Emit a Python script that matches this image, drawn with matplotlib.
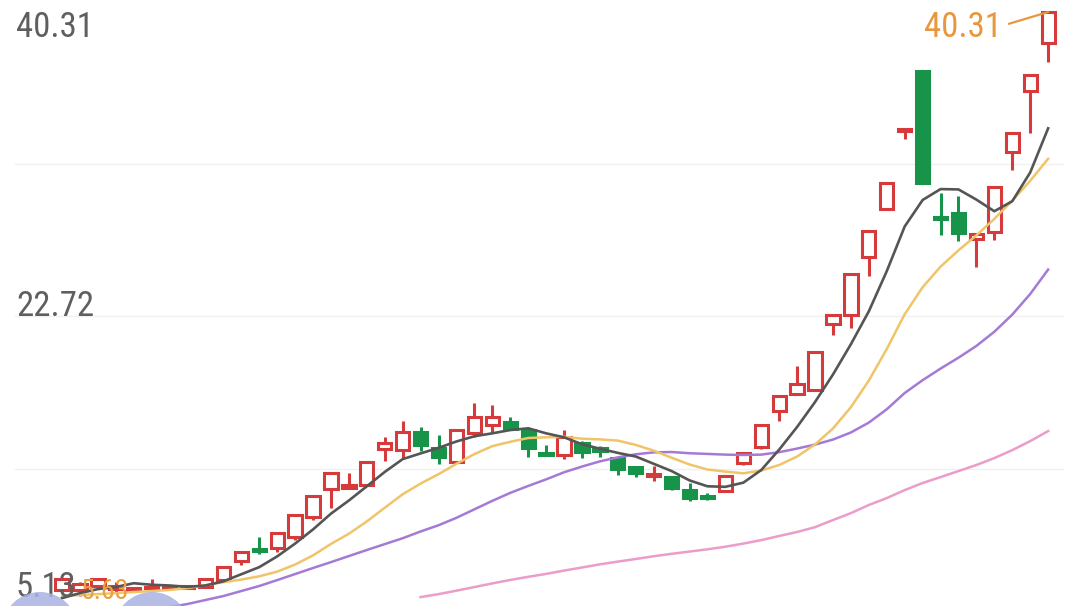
import numpy as np
import matplotlib.pyplot as plt
from matplotlib import font_manager
from matplotlib.patches import Rectangle, Ellipse

# daily candles, oldest first (prices)
opens = [6.92, 6.92, 7.15, 6.97, 6.92, 7.03, 7.03, 7.03, 7.09, 7.49,
         8.59, 9.28, 9.34, 9.98, 11.13, 12.75, 12.81, 12.98, 15.06, 15.00,
         16.04, 15.12, 14.31, 15.99, 16.45, 16.62, 16.16, 14.83, 14.72, 15.41,
         15.12, 14.54, 14.02, 13.50, 13.44, 12.69, 12.35, 12.63, 14.25, 15.18,
         17.26, 18.24, 18.47, 22.28, 22.80, 26.15, 28.93, 33.43, 36.90, 28.46,
         28.69, 27.19, 27.60, 32.22, 35.74, 38.52]
closes = [7.55, 7.26, 7.55, 7.15, 7.03, 7.09, 7.09, 7.15, 7.55, 8.24,
          9.11, 9.17, 10.21, 11.25, 12.35, 13.68, 12.98, 14.31, 15.41, 16.04,
          15.29, 14.60, 16.16, 16.91, 16.91, 16.22, 15.12, 14.72, 15.75, 14.89,
          14.95, 13.91, 13.68, 13.62, 12.81, 12.23, 12.23, 13.50, 14.83, 16.45,
          18.12, 18.82, 20.66, 22.80, 25.17, 27.65, 30.43, 33.55, 30.43, 28.35,
          27.54, 27.48, 30.20, 33.32, 36.67, 40.31]
highs = [7.55, 7.38, 7.55, 7.38, 7.03, 7.55, 7.20, 7.15, 7.55, 8.24,
         9.11, 9.98, 10.21, 11.25, 12.35, 13.68, 13.68, 14.31, 15.75, 16.68,
         16.33, 15.87, 16.16, 17.72, 17.60, 16.91, 16.33, 15.29, 16.16, 15.52,
         15.24, 14.60, 14.08, 14.08, 13.50, 13.10, 12.52, 13.50, 14.83, 16.45,
         18.12, 19.86, 20.66, 22.80, 25.17, 27.65, 30.43, 33.55, 36.90, 29.85,
         29.68, 27.48, 30.20, 33.32, 36.67, 40.31]
lows = [6.80, 6.57, 7.03, 6.80, 6.86, 6.92, 6.97, 6.97, 7.03, 7.44,
        8.36, 9.00, 9.11, 9.80, 10.96, 11.65, 12.75, 12.98, 14.37, 14.54,
        14.95, 14.19, 14.31, 15.75, 15.99, 16.16, 14.60, 14.66, 14.48, 14.54,
        14.60, 13.56, 13.44, 13.21, 12.69, 12.06, 12.11, 12.58, 14.14, 15.06,
        16.68, 18.24, 18.47, 21.65, 22.05, 25.05, 28.93, 32.97, 30.37, 27.42,
        27.08, 25.57, 27.13, 31.18, 33.32, 37.42]

# moving average lines as shown
ma5 = [6.45, 6.74, 6.97, 7.09, 7.31, 7.22, 7.18, 7.10, 7.18, 7.42,
       7.83, 8.24, 8.86, 9.60, 10.42, 11.33, 12.09, 12.91, 13.74, 14.48,
       14.81, 15.13, 15.50, 15.80, 15.97, 16.16, 16.26, 15.97, 15.74, 15.34,
       15.08, 14.84, 14.63, 14.21, 13.79, 13.25, 12.91, 12.88, 13.12, 13.85,
       15.03, 16.34, 17.78, 19.37, 21.12, 23.02, 25.34, 27.92, 29.45, 30.08,
       30.06, 29.47, 28.80, 29.38, 31.04, 33.59]
ma10 = [6.57, 6.63, 6.68, 6.74, 6.80, 6.86, 6.92, 7.03, 7.20, 7.37,
        7.52, 7.71, 7.98, 8.39, 8.92, 9.58, 10.17, 10.88, 11.67, 12.45,
        13.07, 13.61, 14.21, 14.77, 15.23, 15.48, 15.70, 15.74, 15.77, 15.66,
        15.62, 15.55, 15.30, 14.97, 14.56, 14.17, 13.88, 13.76, 13.66, 13.82,
        14.14, 14.63, 15.33, 16.25, 17.48, 19.02, 20.84, 22.85, 24.41, 25.60,
        26.54, 27.41, 28.36, 29.41, 30.56, 31.83]
ma20 = [4.60, 4.84, 5.07, 5.30, 5.53, 5.76, 5.93, 6.11, 6.34, 6.57,
        6.86, 7.15, 7.49, 7.84, 8.19, 8.53, 8.88, 9.23, 9.57, 9.91,
        10.30, 10.66, 11.09, 11.58, 12.07, 12.53, 12.93, 13.31, 13.72, 14.05,
        14.35, 14.58, 14.76, 14.87, 14.89, 14.82, 14.78, 14.74, 14.72, 14.74,
        14.88, 15.09, 15.32, 15.61, 16.02, 16.59, 17.36, 18.30, 19.04, 19.71,
        20.34, 21.02, 21.84, 22.83, 24.02, 25.43]
ma60 = [np.nan] * 20 + [
        6.51, 6.68, 6.88, 7.09, 7.30, 7.50, 7.68, 7.85, 8.04, 8.22,
        8.40, 8.56, 8.71, 8.87, 9.01, 9.14, 9.27, 9.42, 9.60, 9.80,
        10.04, 10.27, 10.55, 10.96, 11.36, 11.83, 12.23, 12.69, 13.10, 13.44,
        13.79, 14.14, 14.54, 15.00, 15.52, 16.10]

axis_top = 40.31
axis_bottom = 5.13
axis_mid = 22.72
axis_labels = ["40.31", "22.72", "5.13"]
max_label = "40.31"
min_label = "5.63"

RED = '#d63a3a'
GREEN = '#17944a'
W, H = 1077, 606

# pick a narrow face for the price labels if one is around
names = {f.name for f in font_manager.fontManager.ttflist}
narrow = [n for n in ['Roboto Condensed', 'Liberation Sans Narrow', 'DejaVu Sans Condensed',
                      'Open Sans Condensed'] if n in names]
label_font = narrow[0] if narrow else 'Roboto'
label_size = 25 if narrow else 24

fig = plt.figure(figsize=(W / 100, H / 100), dpi=100)
ax = fig.add_axes([0, 0, 1, 1])
ax.axis('off')

# price scale: 40.31 sits 12px under the top, 22.72 on the middle grid line
px_per_unit = 17.31
ax.set_ylim(axis_top - (H - 12) / px_per_unit, axis_top + 12 / px_per_unit)
ax.set_xlim(-3.46, 56.61)

# faint horizontal grid (quarters of the range)
step = (axis_top - axis_bottom) / 4
for lvl in [axis_top - step, axis_mid, axis_bottom + step]:
    ax.axhline(lvl, xmin=15 / W, xmax=1063 / W, color='#f0f0f0', lw=1, zorder=0)

x = np.arange(len(closes))
body_w = 0.74
lw = 2.2
for i in x:
    o, c, h, l = opens[i], closes[i], highs[i], lows[i]
    up = c >= o
    col = RED if up else GREEN
    top, bot = max(o, c), min(o, c)
    if h > top:
        ax.plot([i, i], [top, h], color=col, lw=lw, solid_capstyle='butt', zorder=2)
    if l < bot:
        ax.plot([i, i], [l, bot], color=col, lw=lw, solid_capstyle='butt', zorder=2)
    ax.add_patch(Rectangle((i - body_w / 2, bot), body_w, top - bot,
                           facecolor='white' if up else col, edgecolor=col,
                           lw=lw, joinstyle='miter', zorder=2.5))

ax.plot(x, ma60, color='#eb9cc9', lw=1.8, zorder=3)
ax.plot(x, ma20, color='#a57ad6', lw=1.8, zorder=3)
ax.plot(x, ma10, color='#f0c468', lw=1.8, zorder=3)
ax.plot(x, ma5, color='#555555', lw=1.9, zorder=3)

# left price labels
txt = dict(color='#5f5f5f', fontsize=label_size, family=label_font, transform=ax.transAxes,
           va='baseline', ha='left', zorder=6)
ax.text(16 / W, 1 - 37 / H, axis_labels[0], **txt)
ax.text(16 / W, 1 - 316 / H, axis_labels[1], **txt)
ax.text(16 / W, 1 - 597 / H, axis_labels[2], **txt)

# max / min markers
imax = int(np.argmax(highs))
ax.annotate(max_label, xy=(imax, highs[imax]), xytext=(-46 * 0.72, -25 * 0.72),
            textcoords='offset points', ha='right', va='baseline',
            color='#e8983c', fontsize=label_size, family=label_font, zorder=6,
            arrowprops=dict(arrowstyle='-', color='#e8983c', lw=1.6,
                            relpos=(1, 0.55), shrinkA=3, shrinkB=0))
imin = int(np.argmin(lows))
ax.annotate(min_label, xy=(imin, lows[imin]), xytext=(0, -9 * 0.72),
            textcoords='offset points', ha='left', va='bottom',
            color='#e8a040', fontsize=label_size * 0.8, family=label_font, zorder=6)

# floating buttons of the app, cut by the bottom edge
for cx in [40, 152]:
    ax.add_patch(Ellipse((cx / W, 1 - 630 / H), 76 / W, 76 / H, transform=ax.transAxes,
                         facecolor='#aab3e4', edgecolor='none', alpha=0.85, zorder=7))

fig.savefig('out.png', dpi=100)
